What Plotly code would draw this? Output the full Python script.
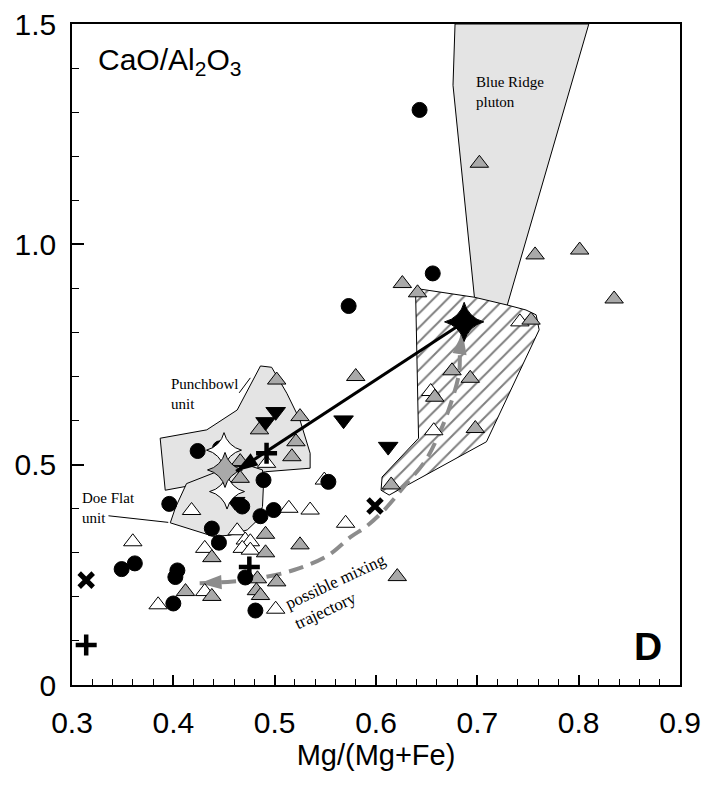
import plotly.graph_objects as go

# ---- sample data: Mg/(Mg+Fe) vs CaO/Al2O3 ----
circle_x = [0.643, 0.656, 0.573, 0.424, 0.446, 0.489, 0.396, 0.468, 0.486, 0.499,
            0.438, 0.445, 0.553, 0.349, 0.362, 0.404, 0.402, 0.400, 0.471, 0.481]
circle_y = [1.305, 0.934, 0.860, 0.531, 0.537, 0.465, 0.411, 0.405, 0.383, 0.397,
            0.355, 0.323, 0.461, 0.263, 0.276, 0.260, 0.245, 0.185, 0.244, 0.169]

open_tri_x = [0.742, 0.654, 0.657, 0.549, 0.492, 0.418, 0.514, 0.535, 0.570, 0.463,
              0.471, 0.476, 0.468, 0.476, 0.431, 0.360, 0.385, 0.431, 0.501]
open_tri_y = [0.824, 0.666, 0.577, 0.465, 0.503, 0.396, 0.401, 0.397, 0.367, 0.350,
              0.329, 0.325, 0.310, 0.306, 0.310, 0.325, 0.182, 0.212, 0.172]

gray_tri_x = [0.702, 0.757, 0.801, 0.835, 0.626, 0.641, 0.753, 0.675, 0.693, 0.658,
              0.698, 0.615, 0.580, 0.502, 0.525, 0.485, 0.521, 0.517, 0.466, 0.466,
              0.491, 0.491, 0.525, 0.438, 0.412, 0.438, 0.483, 0.502, 0.482, 0.486,
              0.621]
gray_tri_y = [1.184, 0.976, 0.987, 0.876, 0.911, 0.890, 0.828, 0.713, 0.696, 0.653,
              0.582, 0.454, 0.700, 0.692, 0.609, 0.579, 0.552, 0.518, 0.507, 0.469,
              0.342, 0.300, 0.318, 0.289, 0.212, 0.201, 0.241, 0.234, 0.214, 0.203,
              0.246]

inv_tri_x = [0.491, 0.501, 0.568, 0.612, 0.461]
inv_tri_y = [0.597, 0.620, 0.601, 0.541, 0.416]

plus_x = [0.492, 0.475, 0.314]
plus_y = [0.526, 0.268, 0.091]

cross_x = [0.314, 0.599]
cross_y = [0.238, 0.406]

white_star_x = [0.450, 0.453]
white_star_y = [0.533, 0.439]
gray_star_x = [0.451]
gray_star_y = [0.488]
black_star_x = [0.687]
black_star_y = [0.824]

# ---- field outlines ----
blue_ridge_x = [0.678, 0.810, 0.728, 0.698, 0.676]
blue_ridge_y = [1.500, 1.500, 0.850, 0.860, 1.361]

hatch_x = [0.639, 0.697, 0.730, 0.748, 0.758, 0.761, 0.709, 0.613, 0.605, 0.606, 0.642]
hatch_y = [0.900, 0.880, 0.862, 0.851, 0.840, 0.806, 0.552, 0.431, 0.442, 0.472, 0.560]

punchbowl_x = [0.387, 0.433, 0.463, 0.486, 0.497, 0.512, 0.525, 0.535, 0.535, 0.491, 0.392]
punchbowl_y = [0.560, 0.579, 0.624, 0.724, 0.721, 0.662, 0.601, 0.526, 0.492, 0.484, 0.442]

doe_flat_x = [0.397, 0.402, 0.413, 0.431, 0.443, 0.459, 0.476, 0.488, 0.489, 0.488,
              0.483, 0.473, 0.456, 0.440]
doe_flat_y = [0.368, 0.402, 0.457, 0.473, 0.484, 0.495, 0.497, 0.488, 0.458, 0.405,
              0.374, 0.352, 0.340, 0.337]

doe_leader_x = [0.336, 0.395]
doe_leader_y = [0.384, 0.369]
punch_leader_x = [0.465, 0.476]
punch_leader_y = [0.663, 0.697]

# mixing trajectory, listed from the upper tip down to the lower-left tip
mix_x = [0.6855, 0.683, 0.682, 0.674, 0.664, 0.649, 0.629, 0.608, 0.590, 0.575, 0.552,
         0.519, 0.486, 0.459, 0.426]
mix_y = [0.800, 0.760, 0.708, 0.640, 0.579, 0.510, 0.454, 0.397, 0.359, 0.336, 0.293,
         0.261, 0.243, 0.235, 0.231]

# black arrow: tail at the black star, head near the gray star
arrow_x = [black_star_x[0], 0.462]
arrow_y = [black_star_y[0], 0.485]

SANS = "Liberation Sans, Arial, Helvetica, sans-serif"
SERIF = "Liberation Serif, Times New Roman, serif"
FIELD_GRAY = "#e4e4e4"
MID_GRAY = "#a9a9a9"
TRAJ_GRAY = "#8c8c8c"

fig = go.Figure()


def field(xs, ys, **kw):
    fig.add_trace(go.Scatter(x=xs + xs[:1], y=ys + ys[:1], mode="lines", fill="toself",
                             line=dict(color="black", width=1), hoverinfo="skip", **kw))


field(blue_ridge_x, blue_ridge_y, fillcolor=FIELD_GRAY)
field(hatch_x, hatch_y, fillcolor="white",
      fillpattern=dict(shape="/", fgcolor="black", bgcolor="white", size=10, solidity=0.2))
field(punchbowl_x, punchbowl_y, fillcolor=FIELD_GRAY)
field(doe_flat_x, doe_flat_y, fillcolor=FIELD_GRAY)

for lx, ly in [(doe_leader_x, doe_leader_y), (punch_leader_x, punch_leader_y)]:
    fig.add_trace(go.Scatter(x=lx, y=ly, mode="lines", line=dict(color="black", width=1),
                             hoverinfo="skip"))


def head(xs, ys, color, size):
    """Arrowhead at the last of two points, pointing away from the first one."""
    fig.add_trace(go.Scatter(x=xs, y=ys, mode="markers", cliponaxis=False, hoverinfo="skip",
                             marker=dict(symbol="arrow", size=size, angleref="previous",
                                         color=color, line=dict(width=0))))


# dashed mixing curve with an arrowhead at each end
fig.add_trace(go.Scatter(x=mix_x, y=mix_y, mode="lines", hoverinfo="skip",
                         line=dict(color=TRAJ_GRAY, width=4, dash="15px,8px",
                                   shape="spline")))
head(mix_x[1::-1], mix_y[1::-1], TRAJ_GRAY, 23)
head(mix_x[-2:], mix_y[-2:], TRAJ_GRAY, 23)


def pts(xs, ys, symbol, size, fill, lw=1, lc="black"):
    fig.add_trace(go.Scatter(x=xs, y=ys, mode="markers", cliponaxis=False, hoverinfo="skip",
                             marker=dict(symbol=symbol, size=size, color=fill,
                                         line=dict(color=lc, width=lw))))


pts(open_tri_x, open_tri_y, "triangle-up", 16, "white")
pts(gray_tri_x, gray_tri_y, "triangle-up", 16, MID_GRAY)
pts(circle_x, circle_y, "circle", 15, "black")
pts(inv_tri_x, inv_tri_y, "triangle-down", 17, "black")
pts(plus_x, plus_y, "cross-thin", 15, "black", lw=4.5)
pts(cross_x, cross_y, "x-thin", 14, "black", lw=5)
pts(white_star_x, white_star_y, "star-diamond", 25, "white")
pts(gray_star_x, gray_star_y, "star-diamond", 25, MID_GRAY)

# black arrow from the black star toward the gray star
fig.add_trace(go.Scatter(x=arrow_x, y=arrow_y, mode="lines", hoverinfo="skip",
                         line=dict(color="black", width=3)))
head(arrow_x, arrow_y, "black", 23)
pts(black_star_x, black_star_y, "star-diamond", 28, "black")

annotations = [
    dict(x=0.324, y=1.462, xref="x", yref="y", xanchor="left", yanchor="top",
         text="CaO/Al<sub>2</sub>O<sub>3</sub>", showarrow=False,
         font=dict(family=SANS, size=30, color="black")),
    dict(x=0.8685, y=0.088, xref="x", yref="y", text="<b>D</b>", showarrow=False,
         font=dict(family=SANS, size=39, color="black")),
    dict(x=0.697, y=1.39, xref="x", yref="y", xanchor="left", yanchor="top", align="left",
         text="Blue Ridge<br>pluton", showarrow=False,
         font=dict(family=SERIF, size=15, color="black")),
    dict(x=0.396, y=0.705, xref="x", yref="y", xanchor="left", yanchor="top", align="left",
         text="Punchbowl<br>unit", showarrow=False,
         font=dict(family=SERIF, size=15, color="black")),
    dict(x=0.308, y=0.446, xref="x", yref="y", xanchor="left", yanchor="top", align="left",
         text="Doe Flat<br>unit", showarrow=False,
         font=dict(family=SERIF, size=15, color="black")),
    dict(x=0.5648, y=0.212, xref="x", yref="y", align="left", textangle=-25,
         text="possible mixing<br>trajectory", showarrow=False,
         font=dict(family=SERIF, size=17, color="black")),
]

fig.update_layout(
    width=714, height=791,
    margin=dict(l=72, r=34, t=24, b=106),
    plot_bgcolor="white", paper_bgcolor="white",
    showlegend=False,
    annotations=annotations,
    font=dict(family=SANS, color="black"),
)

fig.update_xaxes(
    range=[0.3, 0.9], tickmode="linear", tick0=0.3, dtick=0.1, tickformat=".1f",
    ticks="inside", ticklen=10, tickwidth=1.5, tickcolor="black",
    minor=dict(tickmode="linear", tick0=0.3, dtick=0.02, ticks="inside", ticklen=6,
               tickwidth=1.2, tickcolor="black"),
    showline=True, linecolor="black", linewidth=1.5, mirror=True,
    showgrid=False, zeroline=False, automargin=False,
    tickfont=dict(family=SANS, size=30), ticklabelstandoff=10,
    title=dict(text="Mg/(Mg+Fe)", font=dict(family=SANS, size=29), standoff=4),
)
fig.update_yaxes(
    range=[0, 1.5], tickmode="array", tickvals=[0, 0.5, 1.0, 1.5],
    ticktext=["0", "0.5", "1.0", "1.5"],
    ticks="inside", ticklen=12, tickwidth=1.5, tickcolor="black",
    minor=dict(tickmode="linear", tick0=0, dtick=0.1, ticks="inside", ticklen=7,
               tickwidth=1.2, tickcolor="black"),
    showline=True, linecolor="black", linewidth=1.5, mirror=True,
    showgrid=False, zeroline=False, automargin=False,
    tickfont=dict(family=SANS, size=30), ticklabelstandoff=8,
)

fig.write_html("out.html")
